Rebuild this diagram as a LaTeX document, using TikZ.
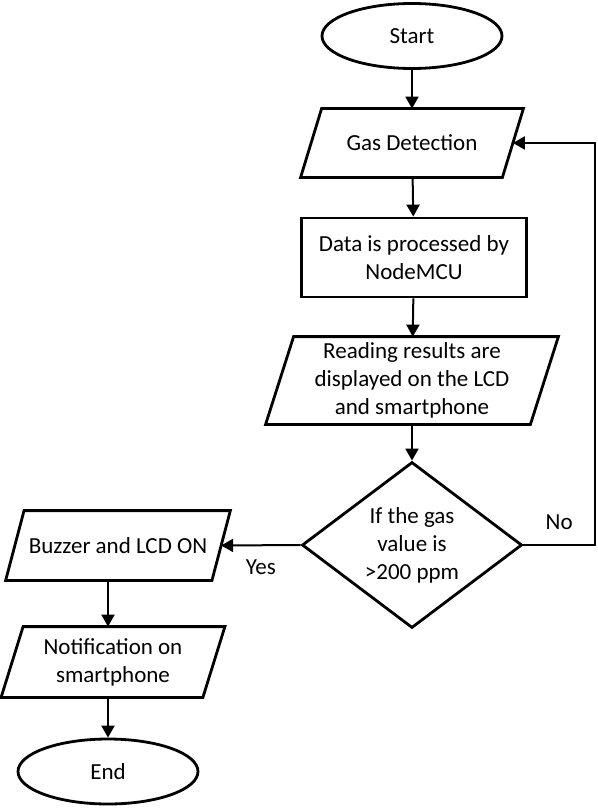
\documentclass[tikz,border=0pt]{standalone}
\usepackage{fontspec}
\setmainfont{Carlito}
\usepackage{tikz}
\usetikzlibrary{arrows.meta, shapes.geometric}
\tikzset{
    blk/.style={draw, line width=1.4pt, align=center, font=\fontsize{11.5}{14}\selectfont,
                inner sep=0pt},
    termblk/.style={blk, ellipse, minimum width=90pt, minimum height=32.5pt},
    ioblk/.style={blk, draw=none, rectangle},
    ioline/.style={line width=1.4pt, line join=miter},
    procblk/.style={blk, rectangle, minimum width=112.5pt, minimum height=39.5pt},
    decblk/.style={blk, diamond, aspect=1.33, minimum width=110pt, minimum height=83pt},
    arr/.style={-{Triangle[length=6pt, width=6.5pt]}, line width=1pt},
    lbl/.style={font=\fontsize{11.5}{14}\selectfont}
}
\begin{document}
\begin{tikzpicture}[x=1pt, y=1pt]
        \useasboundingbox (0,0) rectangle (299,-404);
        % main column
        \node[termblk] (start) at (206,-18) {Start};
        \node[ioblk, minimum width=99.5pt, minimum height=33pt] (gas) at (206,-71.5) {Gas Detection};
        \node[procblk] (data) at (207,-128.75) {Data is processed by\\NodeMCU};
        \node[ioblk, minimum width=131pt, minimum height=42.5pt] (read) at (206,-190.25) {Reading results are\\displayed on the LCD\\and smartphone};
        \node[decblk] (dec) at (206,-272.5) {If the gas\\value is\\>200 ppm};
        % alarm column
        \node[ioblk, minimum width=101.75pt, minimum height=33.5pt] (buzz) at (59,-272.75) {Buzzer and LCD ON};
        \node[ioblk, minimum width=99.5pt, minimum height=34pt] (notif) at (56.5,-331) {Notification on\\smartphone};
        \node[termblk] (endn) at (54,-385.75) {End};
        % parallelogram outlines round the io nodes
        \foreach \n/\s in {gas/5.25pt, read/7pt, buzz/4.6pt, notif/5.5pt}
            \draw[ioline] ([xshift=-\s]\n.south west) -- ([xshift=\s]\n.north west)
                -- ([xshift=\s]\n.north east) -- ([xshift=-\s]\n.south east) -- cycle;
        \coordinate (rt) at (297.5,0);
        \draw[arr] (start) -- (gas);
        \draw[arr] (gas) -- (data);
        \draw[arr] (data) -- (read);
        \draw[arr] (read) -- (dec);
        \draw[arr] (dec.west) -- node[lbl, below=3.5pt] {Yes} (buzz.east);
        \draw[arr] (dec.east) -- node[lbl, above=4pt] {No} (dec.east -| rt) |- (gas.east);
        \draw[arr] (buzz.south -| endn) -- (notif.north -| endn);
        \draw[arr] (notif.south -| endn) -- (endn);
    \end{tikzpicture}
\end{document}
